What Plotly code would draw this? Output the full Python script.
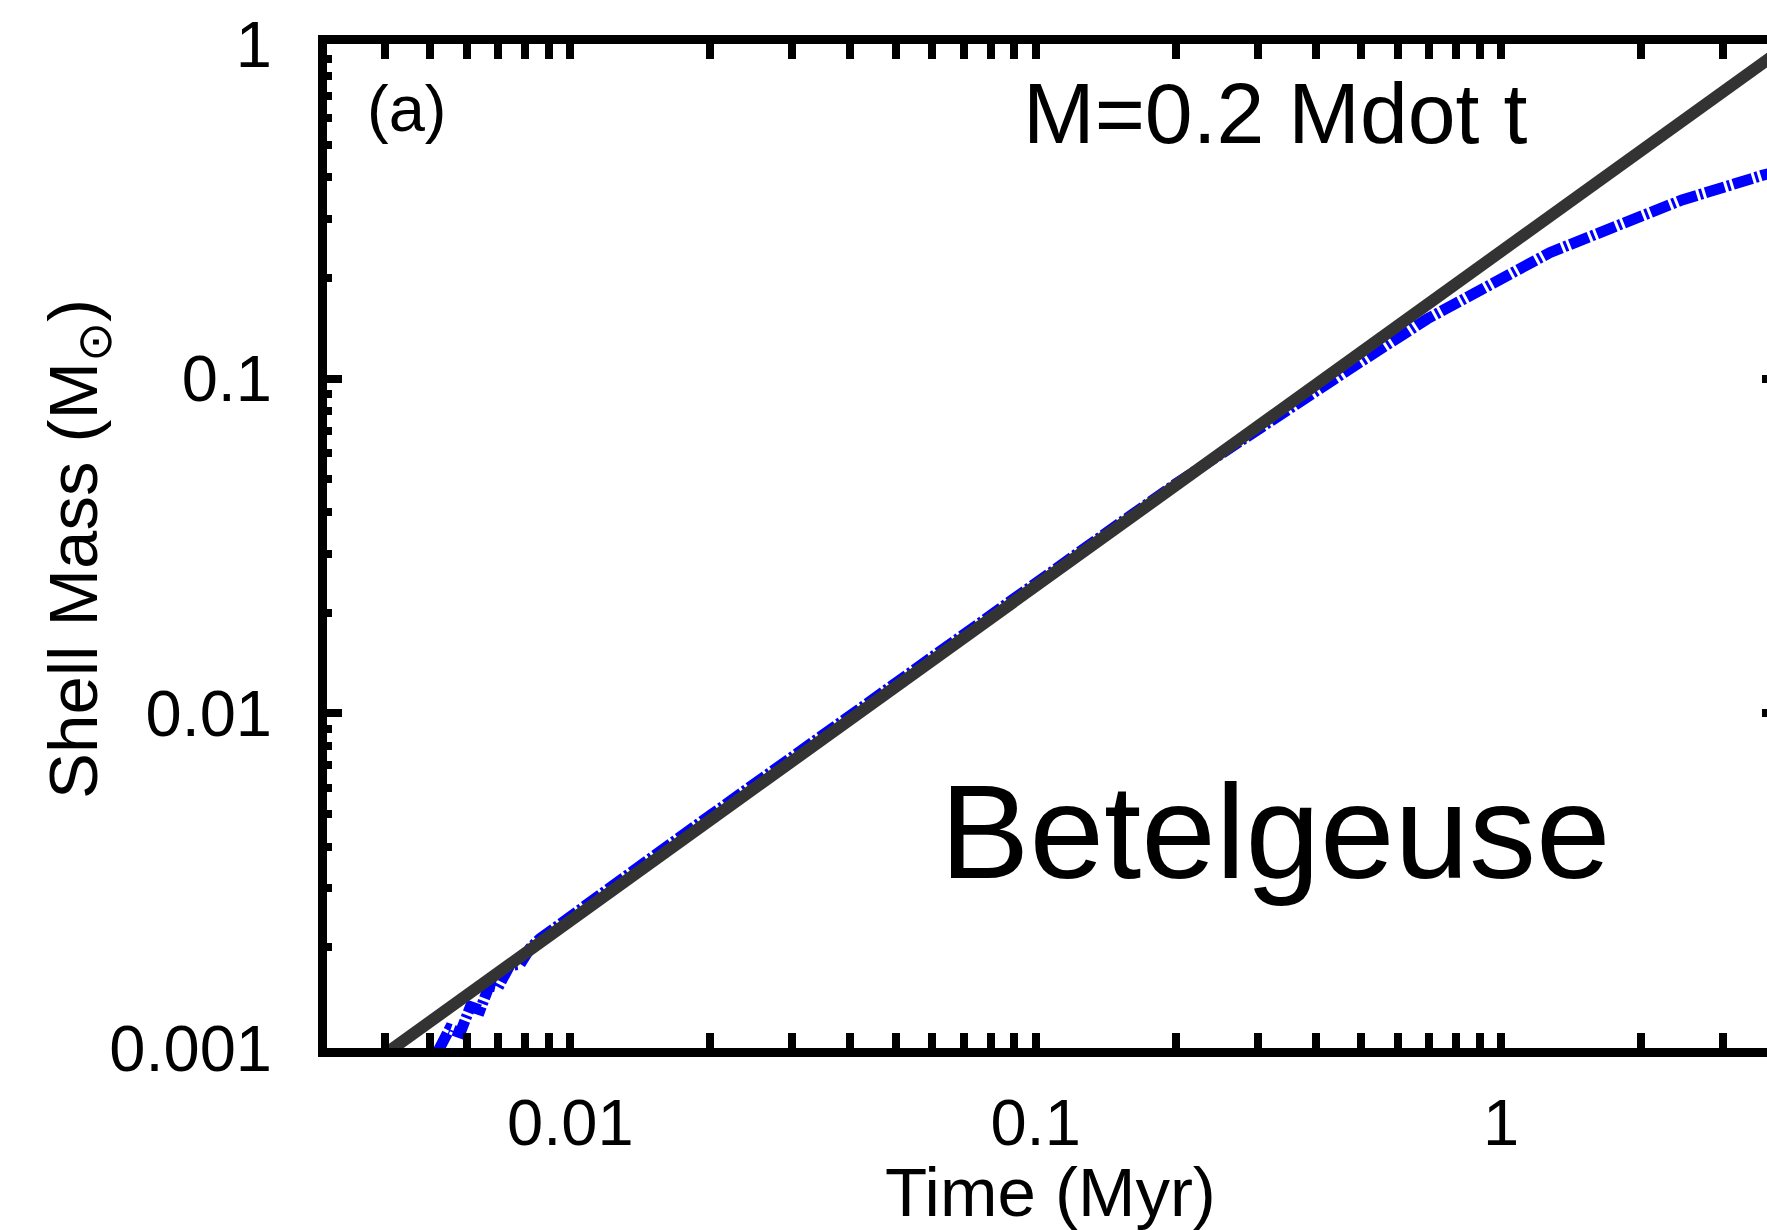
import plotly.graph_objects as go
import math

# ---- data ----
t_model = [0.0052, 0.0055, 0.0058, 0.0061, 0.0064, 0.0067, 0.0070, 0.0074, 0.0078, 0.0082, 0.0086,
           0.010, 0.015, 0.020, 0.030, 0.050, 0.070, 0.10, 0.15, 0.20, 0.25, 0.29,
           0.475, 0.695, 0.915, 1.273, 1.772, 2.45, 3.64, 4.0]
m_model = [0.00098, 0.00114, 0.00111, 0.00133, 0.00130, 0.00154, 0.00152, 0.00176, 0.00178, 0.00199, 0.00212,
           0.00248, 0.00372, 0.00496, 0.00745, 0.0124, 0.0173, 0.0246, 0.0366, 0.0485, 0.0597, 0.0684,
           0.1073, 0.151, 0.185, 0.238, 0.286, 0.342, 0.405, 0.418]

t_fit = [0.003, 4.0]
m_fit = [0.00072, 0.96]

x_tick_vals = [0.01, 0.1, 1]
x_tick_text = ["0.01", "0.1", "1"]
y_tick_vals = [0.001, 0.01, 0.1, 1]
y_tick_text = ["0.001", "0.01", "0.1", "1"]

x_title = "Time (Myr)"
y_title = "Shell Mass (M<sub>\u2299</sub>)"
label_a = "(a)"
label_fit = "M=0.2 Mdot t"
label_star = "Betelgeuse"

# ---- layout geometry ----
W, H = 1767, 1230
ML, MR, MT, MB = 327, 0, 44, 182
PW, PH = W - ML - MR, H - MT - MB
FONT = "Liberation Sans, Arial, Helvetica, sans-serif"

def px(xp):
    return (xp - ML) / PW

def py(yp):
    return (H - MB - yp) / PH

x_minor = [k * 10.0 ** e for e in (-3, -2, -1, 0) for k in range(2, 10) if 0.003 < k * 10.0 ** e < 3.8]
y_minor = [k * 10.0 ** e for e in (-3, -2, -1) for k in range(2, 10)]

fig = go.Figure()
fig.add_trace(go.Scatter(
    x=t_model, y=m_model, mode="lines",
    line=dict(color="#0000ff", width=11, dash="20px,3px,3px,3px"),
    showlegend=False, hoverinfo="skip"))
fig.add_trace(go.Scatter(
    x=t_fit, y=m_fit, mode="lines", yaxis="y2",
    line=dict(color="#333333", width=12),
    showlegend=False, hoverinfo="skip"))

axis_common = dict(
    type="log", showgrid=False, zeroline=False,
    tickfont=dict(family=FONT, size=65, color="black"),
)

fig.update_layout(
    width=W, height=H,
    margin=dict(l=ML, r=MR, t=MT, b=MB, pad=0),
    paper_bgcolor="white", plot_bgcolor="white",
    showlegend=False,
    xaxis=dict(
        **axis_common,
        range=[math.log10(0.003), 0.5717],
        showline=True, linecolor="black", linewidth=9, mirror="allticks",
        tickmode="array", tickvals=x_tick_vals, ticktext=x_tick_text,
        ticks="inside", ticklen=15, tickwidth=8, tickcolor="black",
        ticklabelstandoff=10,
        minor=dict(tickmode="array", tickvals=x_minor, ticks="inside",
                   ticklen=5, tickwidth=8, tickcolor="black", showgrid=False),
    ),
    yaxis=dict(
        **axis_common,
        range=[-3, 0],
        showline=True, linecolor="black", linewidth=9, mirror=False,
        tickmode="array", tickvals=y_tick_vals, ticktext=y_tick_text,
        ticks="inside", ticklen=15, tickwidth=8, tickcolor="black",
        ticklabelstandoff=33,
        minor=dict(tickmode="array", tickvals=y_minor, ticks="inside",
                   ticklen=5, tickwidth=8, tickcolor="black", showgrid=False),
    ),
    yaxis2=dict(
        type="log", range=[-3, 0], overlaying="y", side="right", anchor="x",
        showgrid=False, zeroline=False, showline=False, showticklabels=False,
        tickmode="array", tickvals=y_tick_vals,
        ticks="inside", ticklen=5, tickwidth=8, tickcolor="black",
    ),
    annotations=[
        dict(text=label_a, x=px(406), y=py(108), xref="paper", yref="paper",
             showarrow=False, xanchor="center", yanchor="middle",
             font=dict(family=FONT, size=65, color="black")),
        dict(text=label_fit, x=px(1275), y=py(113), xref="paper", yref="paper",
             showarrow=False, xanchor="center", yanchor="middle",
             font=dict(family=FONT, size=86, color="black")),
        dict(text=label_star, x=px(1275), y=py(831), xref="paper", yref="paper",
             showarrow=False, xanchor="center", yanchor="middle",
             font=dict(family=FONT, size=134, color="black")),
        dict(text=x_title, x=px(1050), y=py(1192), xref="paper", yref="paper",
             showarrow=False, xanchor="center", yanchor="middle",
             font=dict(family=FONT, size=69, color="black")),
        dict(text=y_title, x=px(78), y=py(549), xref="paper", yref="paper",
             showarrow=False, xanchor="center", yanchor="middle", textangle=-90,
             font=dict(family=FONT, size=69, color="black")),
    ],
)

fig.write_html("out.html")
